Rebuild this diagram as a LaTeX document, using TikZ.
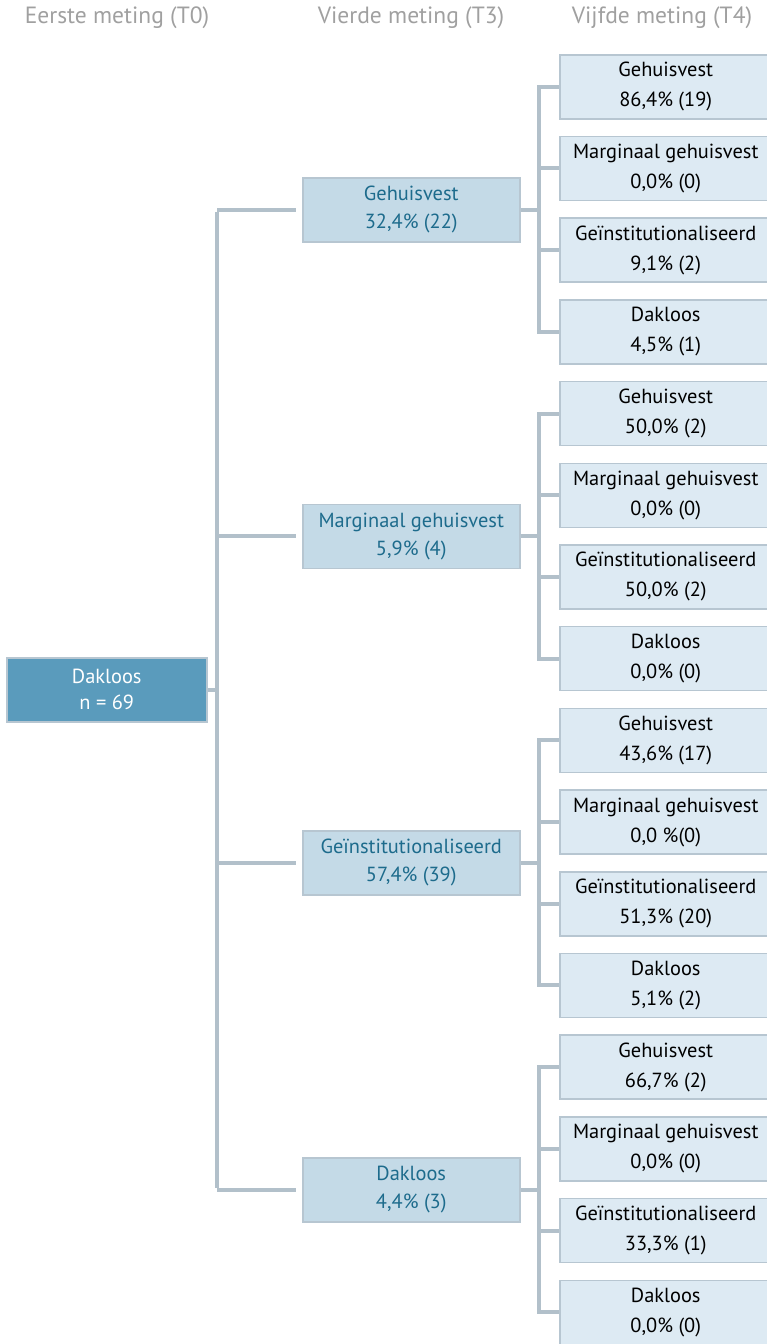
\documentclass[tikz,border=0pt]{standalone}
\usepackage{fontspec}
\setmainfont{PT Sans}
\definecolor{linec}{HTML}{B2C0CA}
\definecolor{bordc}{HTML}{B7C6D1}
\definecolor{leafc}{HTML}{DDEAF3}
\definecolor{midc}{HTML}{C4DAE7}
\definecolor{midt}{HTML}{1D6B8C}
\definecolor{rootc}{HTML}{5A9BBC}
\definecolor{headc}{HTML}{A0A0A0}
\tikzset{
  box/.style={draw=bordc, line width=1.5pt, align=center, inner sep=0pt, anchor=north west},
  leaf/.style={box, fill=leafc, minimum width=212pt, minimum height=64pt, font=\fontsize{20.4}{30}\selectfont, text=black},
  mid/.style={box, fill=midc, minimum width=217pt, minimum height=64pt, font=\fontsize{20.4}{28}\selectfont, text=midt},
  rootbox/.style={box, fill=rootc, minimum width=200pt, minimum height=64pt, font=\fontsize{20.4}{26}\selectfont, text=white},
  head/.style={font=\fontsize{23.5}{26}\selectfont, text=headc, inner sep=0pt},
  conn/.style={draw=linec, line width=4pt},
}
\begin{document}
\begin{tikzpicture}[x=1pt,y=-1pt]
\useasboundingbox (0,0) rectangle (767,1344);
\clip (0,0) rectangle (767,1344);
\node[head] (h0) at (117,18) {Eerste meting (T0)};
\node[head] (h1) at (411,18) {Vierde meting (T3)};
\node[head] (h2) at (662,18) {Vijfde meting (T4)};
\node[rootbox] (r) at (6,657) {Dakloos\\n = 69};
\node[mid] (m1) at (302,177) {Gehuisvest\\32,4\% (22)};
\node[mid] (m2) at (302,503.5) {Marginaal gehuisvest\\5,9\% (4)};
\node[mid] (m3) at (302,830.2) {Geïnstitutionaliseerd\\57,4\% (39)};
\node[mid] (m4) at (302,1157) {Dakloos\\4,4\% (3)};
\node[leaf] (l1) at (559,{54+81.7*0}) {Gehuisvest\\86,4\% (19)};
\node[leaf] (l2) at (559,{54+81.7*1}) {Marginaal gehuisvest\\0,0\% (0)};
\node[leaf] (l3) at (559,{54+81.7*2}) {Geïnstitutionaliseerd\\9,1\% (2)};
\node[leaf] (l4) at (559,{54+81.7*3}) {Dakloos\\4,5\% (1)};
\node[leaf] (l5) at (559,{54+81.7*4}) {Gehuisvest\\50,0\% (2)};
\node[leaf] (l6) at (559,{54+81.7*5}) {Marginaal gehuisvest\\0,0\% (0)};
\node[leaf] (l7) at (559,{54+81.7*6}) {Geïnstitutionaliseerd\\50,0\% (2)};
\node[leaf] (l8) at (559,{54+81.7*7}) {Dakloos\\0,0\% (0)};
\node[leaf] (l9) at (559,{54+81.7*8}) {Gehuisvest\\43,6\% (17)};
\node[leaf] (l10) at (559,{54+81.7*9}) {Marginaal gehuisvest\\0,0 \%(0)};
\node[leaf] (l11) at (559,{54+81.7*10}) {Geïnstitutionaliseerd\\51,3\% (20)};
\node[leaf] (l12) at (559,{54+81.7*11}) {Dakloos\\5,1\% (2)};
\node[leaf] (l13) at (559,{54+81.7*12}) {Gehuisvest\\66,7\% (2)};
\node[leaf] (l14) at (559,{54+81.7*13}) {Marginaal gehuisvest\\0,0\% (0)};
\node[leaf] (l15) at (559,{54+81.7*14}) {Geïnstitutionaliseerd\\33,3\% (1)};
\node[leaf] (l16) at (559,{54+81.7*15}) {Dakloos\\0,0\% (0)};
\coordinate (tk) at (217,0);
\coordinate (br) at (539,0);
\draw[conn] (r.east) -- (r.east -| tk);
\draw[conn] ([yshift=-2pt]m1.west -| tk) -- ([yshift=2pt]m4.west -| tk);
\foreach \m in {m1,m2,m3,m4}{
  \draw[conn, shorten >=6pt] (\m.west -| tk) -- (\m.west);
  \draw[conn] (\m.east) -- (\m.east -| br);
}
\foreach \a/\b in {l1/l4,l5/l8,l9/l12,l13/l16}{
  \draw[conn] ([yshift=-2pt]\a.west -| br) -- ([yshift=2pt]\b.west -| br);
}
\foreach \l in {l1,l2,l3,l4,l5,l6,l7,l8,l9,l10,l11,l12,l13,l14,l15,l16}{
  \draw[conn] ([xshift=-2pt]\l.west -| br) -- (\l.west);
}
\end{tikzpicture}
\end{document}
